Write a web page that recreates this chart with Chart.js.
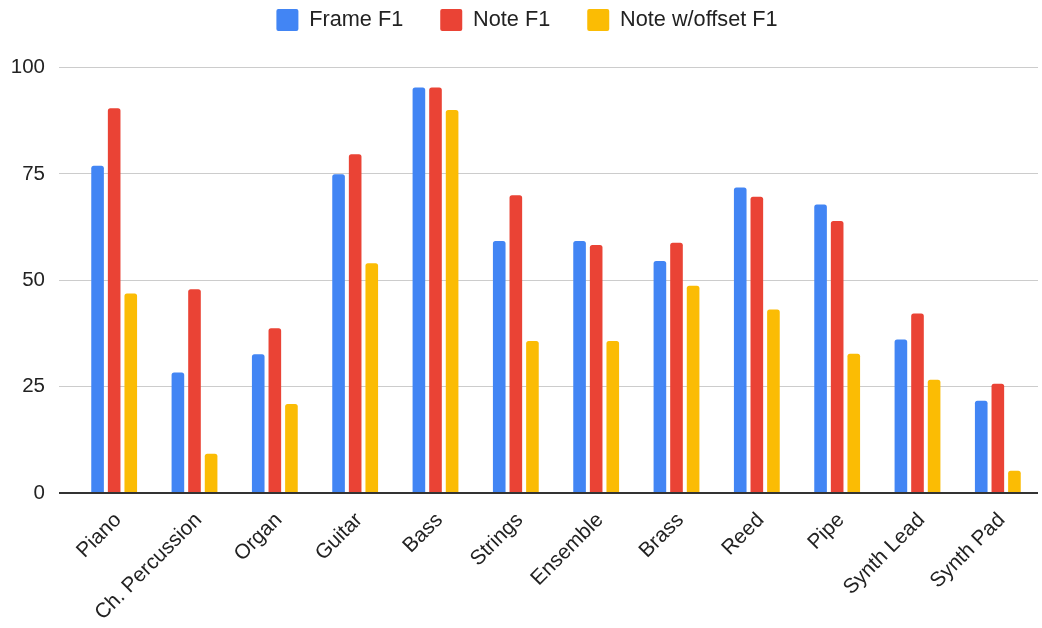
<!DOCTYPE html>
<html>
<head>
<meta charset="utf-8">
<title>F1 by instrument class</title>
<script src="https://cdn.jsdelivr.net/npm/chart.js@4/dist/chart.umd.min.js"></script>
<style>
  html, body { margin: 0; padding: 0; background: #ffffff; }
  #wrap { width: 1042px; height: 628px; position: relative; }
</style>
</head>
<body>
<div id="wrap"><canvas id="chart" width="1042" height="628"></canvas></div>
<script>
// Instrument classes along the x axis
const categories = ['Piano', 'Ch. Percussion', 'Organ', 'Guitar', 'Bass', 'Strings',
                    'Ensemble', 'Brass', 'Reed', 'Pipe', 'Synth Lead', 'Synth Pad'];

// F1 scores (%) per instrument class
const frameF1      = [76.9, 28.3, 32.6, 74.9, 95.3, 59.2, 59.2, 54.5, 71.8, 67.8, 36.1, 21.7];
const noteF1       = [90.4, 47.9, 38.7, 79.6, 95.3, 70.0, 58.3, 58.8, 69.6, 63.9, 42.2, 25.7];
const noteOffsetF1 = [46.9,  9.2, 20.9, 54.0, 90.0, 35.7, 35.7, 48.7, 43.1, 32.7, 26.6,  5.2];

// Y axis ticks
const yTicks = [0, 25, 50, 75, 100];

const seriesNames = ['Frame F1', 'Note F1', 'Note w/offset F1'];
const seriesColors = ['#4285F4', '#EA4335', '#FBBC04'];
const seriesValues = [frameF1, noteF1, noteOffsetF1];

const FONT = "Arial, 'Liberation Sans', sans-serif";

// Legend occupies a fixed band above the plot, nudged right to sit over the plot
const legendBand = {
  id: 'legendBand',
  beforeInit(chart) {
    const fit = chart.legend.fit;
    chart.legend.fit = function () {
      fit.call(this);
      this.height = 95.5;
    };
  },
  afterLayout(chart) {
    chart.legend.left += 16;
  }
};

function draw() {
  new Chart(document.getElementById('chart'), {
    type: 'bar',
    data: {
      labels: categories,
      datasets: seriesValues.map((vals, i) => ({
        label: seriesNames[i],
        data: vals,
        backgroundColor: seriesColors[i],
        borderWidth: 0,
        borderRadius: { topLeft: 2.5, topRight: 2.5, bottomLeft: 0, bottomRight: 0 },
        borderSkipped: false,
        categoryPercentage: 0.62,
        barPercentage: 0.76
      }))
    },
    options: {
      responsive: false,
      animation: false,
      devicePixelRatio: 1,
      layout: { padding: { top: -28, left: 0, right: 4, bottom: 0 } },
      plugins: {
        legend: {
          position: 'top',
          align: 'center',
          labels: {
            boxWidth: 22,
            boxHeight: 22,
            padding: 37,
            useBorderRadius: true,
            borderRadius: 2,
            color: '#222222',
            font: { family: FONT, size: 21.7 }
          }
        },
        tooltip: { enabled: false }
      },
      scales: {
        x: {
          grid: { display: false, drawTicks: false },
          border: { display: false },
          ticks: {
            autoSkip: false,
            minRotation: 45,
            maxRotation: 45,
            padding: 15,
            labelOffset: 4,
            color: '#222222',
            font: { family: FONT, size: 20.8 }
          },
          afterFit(scale) { scale.height = 135; }
        },
        y: {
          min: 0,
          max: 100,
          afterBuildTicks(scale) { scale.ticks = yTicks.map(v => ({ value: v })); },
          grid: {
            color: (c) => (c.tick && c.tick.value === 0 ? '#333333' : '#cccccc'),
            lineWidth: (c) => (c.tick && c.tick.value === 0 ? 2 : 1),
            tickLength: 15
          },
          border: { display: false },
          ticks: {
            padding: 14,
            color: '#222222',
            font: { family: FONT, size: 20.5 }
          },
          afterFit(scale) { scale.width = 74; }
        }
      }
    },
    plugins: [legendBand]
  });
}

if (document.fonts && document.fonts.load) {
  Promise.all([
    document.fonts.load("21px 'Liberation Sans'"),
    document.fonts.load("21px Arial")
  ]).then(draw, draw);
} else {
  draw();
}
</script>
</body>
</html>
